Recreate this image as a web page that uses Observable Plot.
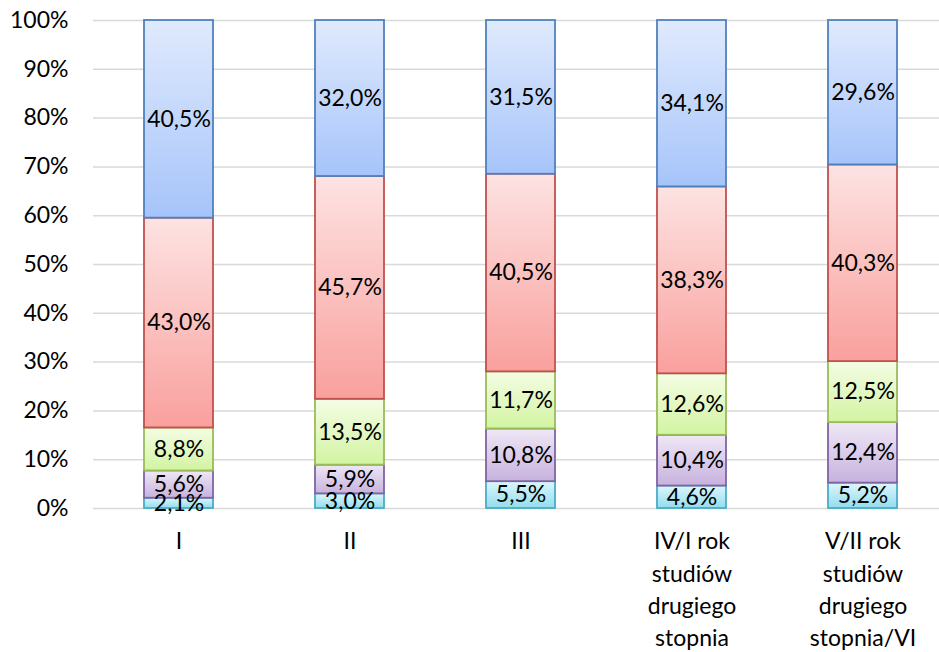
<!DOCTYPE html>
<html>
<head>
<meta charset="utf-8">
<script src="https://cdn.jsdelivr.net/npm/d3@7"></script>
<script src="https://cdn.jsdelivr.net/npm/@observablehq/plot@0.6"></script>
<style>
  html, body { margin: 0; padding: 0; background: #fff; }
  #chart svg { display: block; }
</style>
</head>
<body>
<div id="chart"></div>
<script>
const categories = ["I", "II", "III", "IV/I rok", "V/II rok"];
const categoryLabels = [
  "I",
  "II",
  "III",
  "IV/I rok\nstudiów\ndrugiego\nstopnia",
  "V/II rok\nstudiów\ndrugiego\nstopnia/VI"
];
// series from bottom to top
const seriesNames = ["s1", "s2", "s3", "s4", "s5"];
const s1 = [2.1, 3.0, 5.5, 4.6, 5.2];
const s2 = [5.6, 5.9, 10.8, 10.4, 12.4];
const s3 = [8.8, 13.5, 11.7, 12.6, 12.5];
const s4 = [43.0, 45.7, 40.5, 38.3, 40.3];
const s5 = [40.5, 32.0, 31.5, 34.1, 29.6];
const yTicks = [0, 0.1, 0.2, 0.3, 0.4, 0.5, 0.6, 0.7, 0.8, 0.9, 1.0];

const seriesValues = [s1, s2, s3, s4, s5];
const gradTop = ["#dcf6fc", "#efe8f6", "#f4fde4", "#fde3e2", "#e0eafd"];
const gradBottom = ["#93ddef", "#c7b2de", "#d2f4a2", "#f9a09d", "#a6c4fa"];
const strokes = ["#4bacc6", "#8064a2", "#9bbb59", "#c0504d", "#4f81bd"];

const data = [];
seriesValues.forEach((vals, si) => {
  vals.forEach((v, ci) => {
    data.push({cat: categories[ci], series: seriesNames[si], si, value: v});
  });
});

const fontFamily = "Lato, 'Noto Sans', sans-serif";
const labelMap = new Map(categories.map((c, i) => [c, categoryLabels[i]]));

const chart = Plot.plot({
  width: 939,
  height: 652,
  marginTop: 20,
  marginLeft: 93,
  marginRight: 0,
  marginBottom: 144,
  style: {fontFamily, fontSize: "23px", color: "#000", background: "#fff"},
  x: {domain: categories, range: [93, 948], paddingInner: 0.596, paddingOuter: 0.298, label: null},
  y: {domain: [0, 1], label: null},
  color: {type: "identity"},
  marks: [
    Plot.gridY(yTicks, {stroke: "#d9d9d9", strokeOpacity: 1, strokeWidth: 1.5}),
    Plot.barY(data, Plot.stackY({
      x: "cat", y: "value", z: "si", order: "si", offset: "normalize",
      fill: d => `url(#grad${d.si})`,
      stroke: d => strokes[d.si],
      strokeWidth: 1.8
    })),
    Plot.text(data, Plot.stackY({
      x: "cat", y: "value", z: "si", order: "si", offset: "normalize",
      text: d => d.value.toFixed(1).replace(".", ",") + "%",
      fill: "#000",
      fontSize: 23
    })),
    Plot.axisY(yTicks, {
      tickSize: 0, tickPadding: 25, label: null,
      tickFormat: d => Math.round(d * 100) + "%",
      fontSize: 23
    }),
    Plot.axisX({
      tickSize: 0, tickPadding: 18, label: null,
      tickFormat: d => labelMap.get(d),
      lineHeight: 1.4,
      textOverflow: null,
      lineWidth: Infinity,
      fontSize: 23
    })
  ]
});

// gradient definitions (each bar segment uses its own bounding box)
const ns = "http://www.w3.org/2000/svg";
const defs = document.createElementNS(ns, "defs");
for (let i = 0; i < seriesNames.length; i++) {
  const g = document.createElementNS(ns, "linearGradient");
  g.setAttribute("id", `grad${i}`);
  g.setAttribute("x1", "0"); g.setAttribute("y1", "0");
  g.setAttribute("x2", "0"); g.setAttribute("y2", "1");
  const a = document.createElementNS(ns, "stop");
  a.setAttribute("offset", "0"); a.setAttribute("stop-color", gradTop[i]);
  const b = document.createElementNS(ns, "stop");
  b.setAttribute("offset", "1"); b.setAttribute("stop-color", gradBottom[i]);
  g.appendChild(a); g.appendChild(b);
  defs.appendChild(g);
}
chart.insertBefore(defs, chart.firstChild);

document.getElementById("chart").appendChild(chart);
</script>
</body>
</html>
